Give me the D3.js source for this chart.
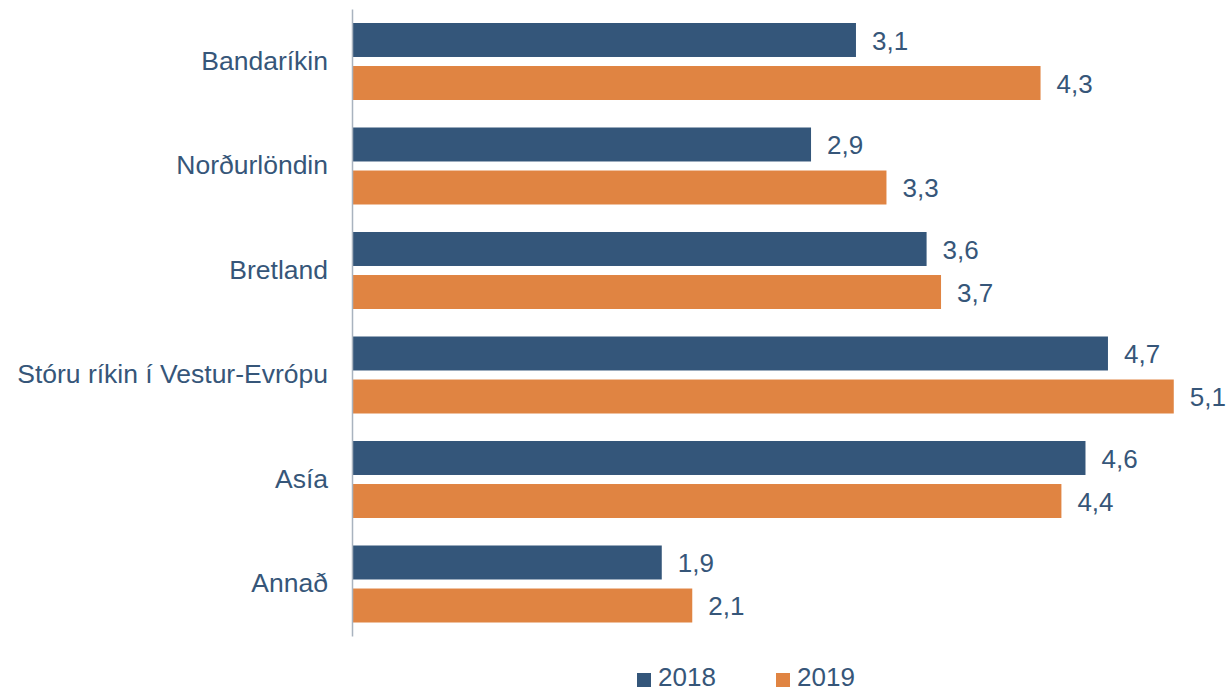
<!DOCTYPE html>
<html>
<head>
<meta charset="utf-8">
<script src="https://cdn.jsdelivr.net/npm/d3@7"></script>
<style>
  body { margin: 0; background: #fff; }
  text { font-family: "Liberation Sans", Arial, sans-serif; }
</style>
</head>
<body>
<script>
// Data (labels show one decimal)
var categories = ["Bandaríkin", "Norðurlöndin", "Bretland", "Stóru ríkin í Vestur-Evrópu", "Asía", "Annað"];
var years = ["2018", "2019"];
var values2018 = [3.14, 2.86, 3.58, 4.71, 4.57, 1.93];
var values2019 = [4.29, 3.33, 3.67, 5.12, 4.42, 2.12];
var colors = ["#34567a", "#e08442"];

var width = 1227, height = 689;
var margin = { top: 9, right: 52, bottom: 53, left: 352 };
var textColor = "#365679";

var data = categories.map(function (c, i) {
    return { cat: c, vals: [values2018[i], values2019[i]] };
});

var svg = d3.select("body").append("svg")
    .attr("width", width)
    .attr("height", height);

// scales
var xScale = d3.scaleLinear().domain([0, 5]).range([margin.left, margin.left + 5 * 160.5]);
var yScale = d3.scaleBand().domain(categories).range([margin.top, height - margin.bottom]).paddingInner(0).paddingOuter(0);
var ySub = d3.scaleBand().domain(years).range([14, 91]).paddingInner(0.21);

var groups = svg.selectAll(".grp")
    .data(data)
    .enter()
    .append("g")
    .attr("class", "grp")
    .attr("transform", d => "translate(0," + yScale(d.cat) + ")");

// bars
groups.selectAll("rect")
    .data(d => d.vals.map((v, j) => ({ year: years[j], v: v, j: j })))
    .enter()
    .append("rect")
    .attr("x", xScale(0))
    .attr("y", d => ySub(d.year))
    .attr("width", d => xScale(d.v) - xScale(0))
    .attr("height", ySub.bandwidth())
    .attr("fill", d => colors[d.j]);

// value labels
groups.selectAll(".val")
    .data(d => d.vals.map((v, j) => ({ year: years[j], v: v })))
    .enter()
    .append("text")
    .attr("class", "val")
    .attr("x", d => xScale(d.v) + 16)
    .attr("y", d => ySub(d.year) + ySub.bandwidth() / 2)
    .attr("dy", "0.38em")
    .attr("font-size", "26px")
    .attr("fill", textColor)
    .text(d => d3.format(".1f")(d.v).replace(".", ","));

// y axis line + category labels
var yAxis = d3.axisLeft(yScale).tickSize(0).tickPadding(24);
var gy = svg.append("g")
    .attr("transform", "translate(" + xScale(0) + ",0)")
    .call(yAxis);
gy.select(".domain").attr("stroke", "#a9b3bf").attr("stroke-width", 1.5);
gy.selectAll("text")
    .attr("font-size", "26.5px")
    .attr("fill", textColor)
    .style("font-family", "'Liberation Sans', Arial, sans-serif");

// legend
var legend = svg.append("g").attr("transform", "translate(637,679)");
var legX = [0, 139];
years.forEach(function (y, i) {
    legend.append("rect")
        .attr("x", legX[i])
        .attr("y", -6)
        .attr("width", 14)
        .attr("height", 14)
        .attr("fill", colors[i]);
    legend.append("text")
        .attr("x", legX[i] + 21)
        .attr("y", 7)
        .attr("font-size", "26px")
        .attr("fill", textColor)
        .text(y);
});
</script>
</body>
</html>
